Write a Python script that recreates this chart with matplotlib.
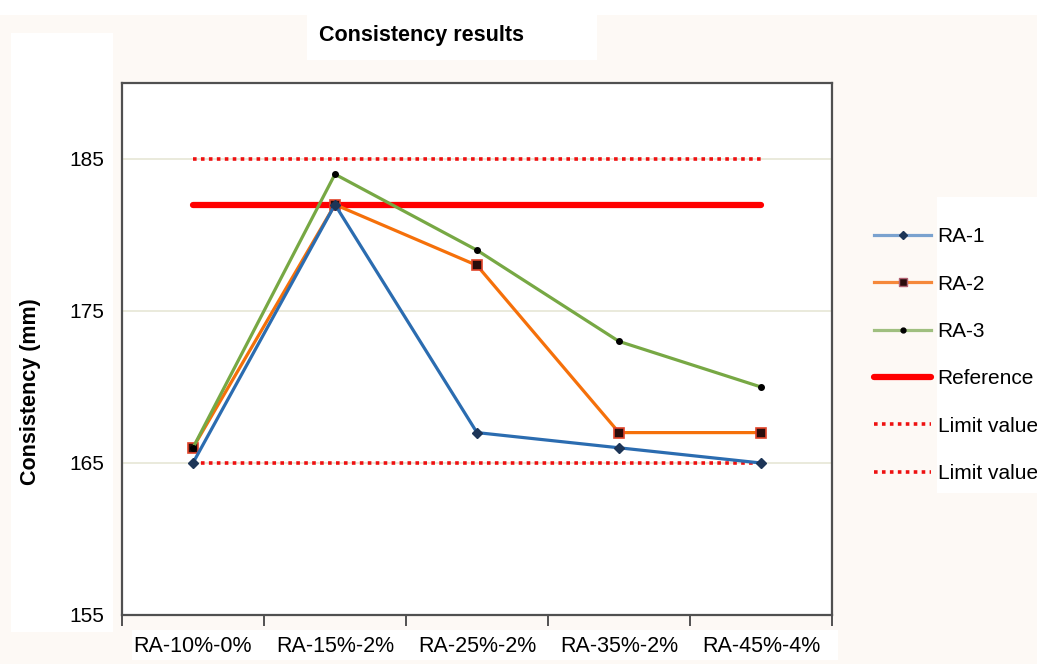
import matplotlib.pyplot as plt
from matplotlib import font_manager
from matplotlib.patches import Rectangle
from matplotlib.lines import Line2D

# mixes and measured consistency (mm)
mezclas = ['RA-10%-0%', 'RA-15%-2%', 'RA-25%-2%', 'RA-35%-2%', 'RA-45%-4%']
ra1 = [165, 182, 167, 166, 165]
ra2 = [166, 182, 178, 167, 167]
ra3 = [166, 184, 179, 173, 170]
referencia = 182
limite_sup = 185
limite_inf = 165
yticks = [155, 165, 175, 185]

nombres = [f.name for f in font_manager.fontManager.ttflist]
fuente = 'Liberation Sans' if 'Liberation Sans' in nombres else 'DejaVu Sans'
estrecha = 'Liberation Sans Narrow' if 'Liberation Sans Narrow' in nombres else fuente
plt.rcParams['font.family'] = [fuente, 'DejaVu Sans']

fig = plt.figure(figsize=(10.37, 6.64), dpi=100, facecolor='#fdf9f5')

# white panels behind title, axis labels and legend
for (x0, y0, w, h) in [(0.0, 0.977, 1.0, 0.023), (0.0106, 0.048, 0.098, 0.902),
                       (0.296, 0.910, 0.280, 0.067), (0.9036, 0.2575, 0.0964, 0.4455),
                       (0.127, 0.006, 0.681, 0.045)]:
    fig.patches.append(Rectangle((x0, y0), w, h, transform=fig.transFigure,
                                 facecolor='white', edgecolor='none', zorder=-1))

ax = fig.add_axes([0.1176, 0.0738, 0.6847, 0.8012])
ax.set_facecolor('white')
x = list(range(len(mezclas)))

ax.plot(x, [limite_sup] * len(x), color='#ee1111', lw=2.6, linestyle=(0, (1, 1.2)), zorder=2)
ax.plot(x, [limite_inf] * len(x), color='#ee1111', lw=2.6, linestyle=(0, (1, 1.2)), zorder=2)
ax.plot(x, [referencia] * len(x), color='#ff0000', lw=4.5, solid_capstyle='round', zorder=2)

ax.plot(x, ra1, color='#2b6cb0', lw=2.3, marker='D', ms=5, mfc='#1d3557', mec='#1d3557', zorder=4)
ax.plot(x, ra2, color='#f5700a', lw=2.3, marker='s', ms=6.5, mfc='#2a0c0c', mec='#e0442a', mew=1.2, zorder=3)
ax.plot(x, ra3, color='#77a844', lw=2.3, marker='o', ms=4, mfc='black', mec='black', zorder=3)

ax.set_xlim(-0.5, len(mezclas) - 0.5)
ax.set_ylim(155, 190)
ax.set_yticks(yticks)
ax.yaxis.grid(True, color='#e6e6d6', lw=1.2)
ax.set_axisbelow(True)
ax.tick_params(axis='y', length=0, pad=13, labelsize=15)

ax.set_xticks(x)
ax.set_xticklabels(mezclas, fontsize=15.5, family=[estrecha, 'DejaVu Sans'])
ax.set_xticks([i - 0.5 for i in range(len(mezclas) + 1)], minor=True)
ax.tick_params(axis='x', which='major', length=0, pad=15)
ax.tick_params(axis='x', which='minor', length=8, width=1.3, color='#444444', direction='out')

for s in ax.spines.values():
    s.set_color('#505050')
    s.set_linewidth(1.6)

fig.text(0.029, 0.41, 'Consistency (mm)', rotation=90, ha='center', va='center',
         fontsize=15.5, fontweight='bold')
fig.text(0.406, 0.947, 'Consistency results', ha='center', va='center',
         fontsize=15.5, fontweight='bold', family=[estrecha, 'DejaVu Sans'])

handles = [
    Line2D([], [], color='#7aa2cf', lw=2.3, marker='D', ms=4, mfc='#1d3557', mec='#1d3557'),
    Line2D([], [], color='#f5883a', lw=2.3, marker='s', ms=6, mfc='#2a0c0c', mec='#b06070'),
    Line2D([], [], color='#9fbf7f', lw=2.3, marker='o', ms=3.5, mfc='black', mec='black'),
    Line2D([], [], color='#ff0000', lw=4.5, solid_capstyle='round'),
    Line2D([], [], color='#ee1111', lw=2.6, linestyle=(0, (1, 1.2))),
    Line2D([], [], color='#ee1111', lw=2.6, linestyle=(0, (1, 1.2))),
]
etiquetas = ['RA-1', 'RA-2', 'RA-3', 'Reference', 'Limit value', 'Limit value']
fig.legend(handles, etiquetas, loc='center left', bbox_to_anchor=(0.843, 0.465),
           frameon=False, fontsize=15, handlelength=2.75, handletextpad=0.3,
           labelspacing=1.36, borderaxespad=0, borderpad=0)

fig.savefig('out.png', dpi=100, facecolor=fig.get_facecolor())
